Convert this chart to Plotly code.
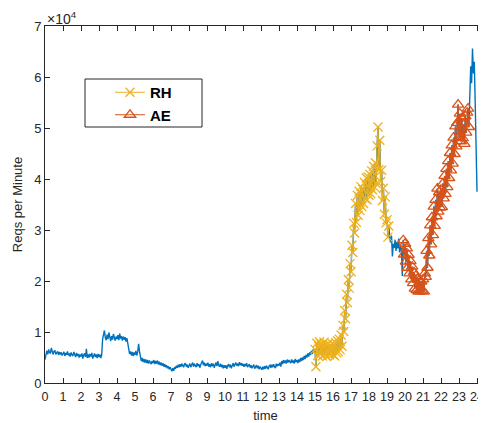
import plotly.graph_objects as go

# Requests per minute, in thousands, sampled every 0.05 h (20 values per hour)
hour_00 = [4.6, 6.0, 6.3, 5.6, 6.6, 6.0, 5.8, 6.9, 6.1, 5.6, 6.2, 6.4, 5.6, 6.0, 6.2, 5.5, 6.1, 5.6, 6.0, 5.4]
hour_01 = [5.8, 6.1, 5.3, 5.9, 5.5, 6.2, 5.4, 5.8, 5.2, 6.0, 5.5, 5.3, 6.1, 5.4, 5.1, 5.9, 5.3, 5.7, 5.0, 5.6]
hour_02 = [5.2, 5.8, 4.8, 5.5, 5.8, 5.1, 6.7, 4.9, 5.6, 5.0, 5.7, 5.2, 5.9, 4.8, 5.5, 5.8, 5.1, 5.6, 4.9, 5.7]
hour_03 = [5.1, 5.6, 4.9, 5.5, 8.6, 9.3, 10.3, 8.9, 8.4, 9.5, 8.6, 9.9, 8.8, 8.2, 9.2, 8.5, 9.6, 8.7, 8.3, 9.1]
hour_04 = [8.6, 9.4, 8.4, 9.7, 8.7, 9.2, 8.3, 9.1, 8.5, 9.0, 8.1, 8.8, 7.8, 6.2, 5.7, 6.2, 5.4, 6.1, 5.3, 6.0]
hour_05 = [5.5, 6.3, 5.4, 6.1, 7.7, 6.2, 5.0, 4.3, 4.9, 4.1, 4.7, 4.0, 4.6, 3.9, 4.5, 3.8, 4.4, 4.0, 3.7, 4.3]
hour_06 = [3.9, 4.5, 3.7, 4.3, 3.8, 4.4, 3.6, 4.2, 3.5, 4.0, 3.4, 3.9, 3.2, 3.7, 3.1, 3.5, 2.9, 3.3, 2.7, 3.1]
hour_07 = [2.5, 2.3, 2.9, 2.4, 3.1, 2.8, 3.4, 3.0, 3.6, 3.1, 3.7, 3.2, 3.8, 3.3, 3.1, 3.7, 3.9, 3.2, 3.6, 3.0]
hour_08 = [3.4, 3.8, 3.1, 3.7, 4.0, 3.2, 3.8, 3.4, 3.1, 3.9, 3.3, 3.7, 3.0, 3.6, 3.9, 4.4, 3.5, 4.0, 3.3, 3.8]
hour_09 = [3.4, 4.0, 3.2, 3.7, 3.1, 3.9, 3.3, 3.8, 3.0, 3.6, 4.0, 3.3, 4.3, 3.5, 3.2, 3.8, 3.1, 3.6, 2.9, 3.5]
hour_10 = [3.0, 3.5, 2.8, 3.4, 3.7, 3.1, 3.6, 2.9, 3.5, 3.9, 3.2, 3.7, 4.0, 3.4, 3.8, 3.3, 4.1, 3.5, 3.9, 3.4]
hour_11 = [3.8, 3.2, 3.7, 3.3, 3.9, 3.1, 3.6, 3.7, 3.0, 3.5, 2.9, 3.4, 3.6, 2.8, 3.3, 3.5, 2.9, 3.4, 2.7, 3.2]
hour_12 = [2.9, 2.6, 3.2, 2.7, 3.3, 2.8, 3.4, 2.9, 2.7, 3.3, 3.5, 3.0, 3.6, 3.1, 3.7, 3.2, 2.9, 3.8, 3.3, 3.7]
hour_13 = [3.4, 4.0, 3.2, 4.3, 3.7, 4.5, 3.9, 4.4, 3.8, 4.6, 4.0, 4.5, 4.1, 3.9, 4.6, 4.0, 4.4, 3.8, 4.7, 4.1]
hour_14 = [4.5, 3.9, 4.6, 4.1, 4.9, 4.3, 5.0, 4.5, 5.3, 4.7, 5.5, 5.0, 5.8, 5.2, 6.0, 5.5, 6.3, 5.7, 6.6, 6.0]
hour_15 = [6.6, 3.2, 7.8, 5.4, 7.2, 8.1, 5.7, 7.5, 5.3, 7.0, 8.0, 5.6, 7.3, 5.2, 7.6, 6.0, 5.5, 7.4, 5.8, 7.7]
hour_16 = [5.6, 7.5, 5.3, 7.9, 5.9, 8.3, 6.1, 8.6, 6.5, 9.4, 7.2, 11.3, 10.1, 14.2, 12.6, 17.4, 15.8, 20.3, 18.6, 23.4]
hour_17 = [21.8, 27.0, 25.6, 31.3, 29.4, 35.2, 31.5, 36.8, 32.9, 37.6, 33.8, 38.5, 34.6, 38.0, 35.2, 39.3, 36.1, 40.2, 35.9, 40.4]
hour_18 = [36.8, 40.9, 37.1, 41.6, 37.9, 42.5, 38.4, 43.2, 39.1, 46.5, 50.2, 41.8, 47.6, 39.5, 41.7, 35.8, 38.2, 33.1, 36.5, 31.4]
hour_19 = [32.0, 28.6, 30.8, 28.4, 27.6, 28.9, 24.8, 27.3, 26.5, 28.1, 25.9, 27.7, 26.4, 28.3, 25.6, 27.0, 26.2, 21.0, 28.0, 25.2]
hour_20 = [27.3, 23.8, 26.4, 22.6, 25.1, 21.5, 23.9, 20.3, 22.8, 19.6, 21.7, 18.5, 21.0, 18.2, 20.4, 17.9, 20.2, 18.0, 19.9, 18.1]
hour_21 = [20.3, 17.9, 21.5, 20.8, 25.9, 22.6, 28.4, 25.0, 30.9, 27.2, 32.5, 29.0, 34.6, 30.8, 35.9, 32.7, 38.1, 33.6, 37.4, 34.4]
hour_22 = [37.9, 34.5, 39.1, 36.2, 40.6, 37.1, 42.0, 38.4, 43.5, 40.2, 45.1, 41.7, 46.6, 43.0, 48.1, 44.9, 50.3, 46.4, 51.0, 54.6]
hour_23 = [48.2, 52.8, 47.4, 51.9, 48.0, 50.7, 46.9, 52.3, 49.1, 53.0, 53.8, 50.2, 57.4, 62.1, 58.8, 65.6, 60.7, 63.0, 54.9, 46.2]
hour_24 = [37.5]

# Time windows (hours) of the two highlighted periods
rh_window = [15.0, 19.1]
ae_window = [19.9, 23.55]

x_ticks = list(range(0, 25))
y_ticks = [0, 1, 2, 3, 4, 5, 6, 7]

hours = [hour_00, hour_01, hour_02, hour_03, hour_04, hour_05, hour_06, hour_07,
         hour_08, hour_09, hour_10, hour_11, hour_12, hour_13, hour_14, hour_15,
         hour_16, hour_17, hour_18, hour_19, hour_20, hour_21, hour_22, hour_23, hour_24]

values = []
times = []
for h, vals in enumerate(hours):
    for k, v in enumerate(vals):
        times.append(h + k * 0.05)
        values.append(v * 1000)

def window(w):
    xs, ys = [], []
    for t, v in zip(times, values):
        if w[0] - 1e-9 <= t <= w[1] + 1e-9:
            xs.append(t)
            ys.append(v)
    return xs, ys

rh_t, rh_v = window(rh_window)
ae_t, ae_v = window(ae_window)

BLUE = "#0072BD"
YEL = "#EDB120"
RED = "#D95319"
AX = "#262626"
FONT = "Liberation Sans, Arial, Helvetica, sans-serif"

# page body has an 8px margin: figure is drawn at (8, 8)
W, H = 478, 415
L, T, B = 37, 18, 40
PW, PH = W - L, H - T - B

def px(xp):
    return (xp - 8 - L) / PW

def py(yp):
    return (H - B - (yp - 8)) / PH

fig = go.Figure()
fig.add_trace(go.Scatter(x=times, y=values, mode="lines", line=dict(color=BLUE, width=1.4),
                         showlegend=False))
fig.add_trace(go.Scatter(x=rh_t, y=rh_v, mode="lines+markers", name="RH",
                         line=dict(color=YEL, width=1),
                         marker=dict(symbol="x-thin", size=9, color=YEL,
                                     line=dict(color=YEL, width=1.3))))
fig.add_trace(go.Scatter(x=ae_t, y=ae_v, mode="lines+markers", name="AE",
                         line=dict(color=RED, width=1),
                         marker=dict(symbol="triangle-up-open", size=10, color=RED,
                                     line=dict(color=RED, width=1.3))))

fig.update_layout(
    width=W, height=H,
    margin=dict(l=L, r=0, t=T, b=B, autoexpand=False),
    plot_bgcolor="white", paper_bgcolor="white",
    font=dict(family=FONT, color=AX, size=13),
    showlegend=True,
    legend=dict(x=px(110), y=py(76), xanchor="left", yanchor="top",
                bgcolor="rgba(0,0,0,0)", borderwidth=0,
                font=dict(size=15, color="black", family=FONT, weight="bold"),
                itemwidth=30, tracegroupgap=0),
    shapes=[dict(type="rect", xref="paper", yref="paper",
                 x0=px(85), x1=px(202), y0=py(127), y1=py(79),
                 line=dict(color=AX, width=1), fillcolor="white", layer="below")],
    annotations=[dict(text="×10<sup>4</sup>", xref="paper", yref="paper",
                      x=px(45), y=1, xanchor="left", yanchor="bottom", showarrow=False,
                      font=dict(size=14, color=AX, family=FONT), yshift=-3)],
)
fig.update_xaxes(range=[0, 24.5], tickvals=x_ticks, ticktext=[str(v) for v in x_ticks],
                 showline=True, linecolor=AX, linewidth=1, mirror="ticks", automargin=False,
                 ticks="inside", ticklen=5, tickcolor=AX, showgrid=False, zeroline=False,
                 ticklabelstandoff=2,
                 tickfont=dict(size=12.5), title=dict(text="time", font=dict(size=13), standoff=8))
fig.update_yaxes(range=[0, 70000], tickvals=[v * 10000 for v in y_ticks],
                 ticktext=[str(v) for v in y_ticks], automargin=False,
                 showline=True, linecolor=AX, linewidth=1, mirror=False,
                 ticks="inside", ticklen=5, tickcolor=AX, showgrid=False, zeroline=False,
                 tickfont=dict(size=13), title=dict(text="Reqs per Minute", font=dict(size=13), standoff=8))

fig.write_html("out.html")
